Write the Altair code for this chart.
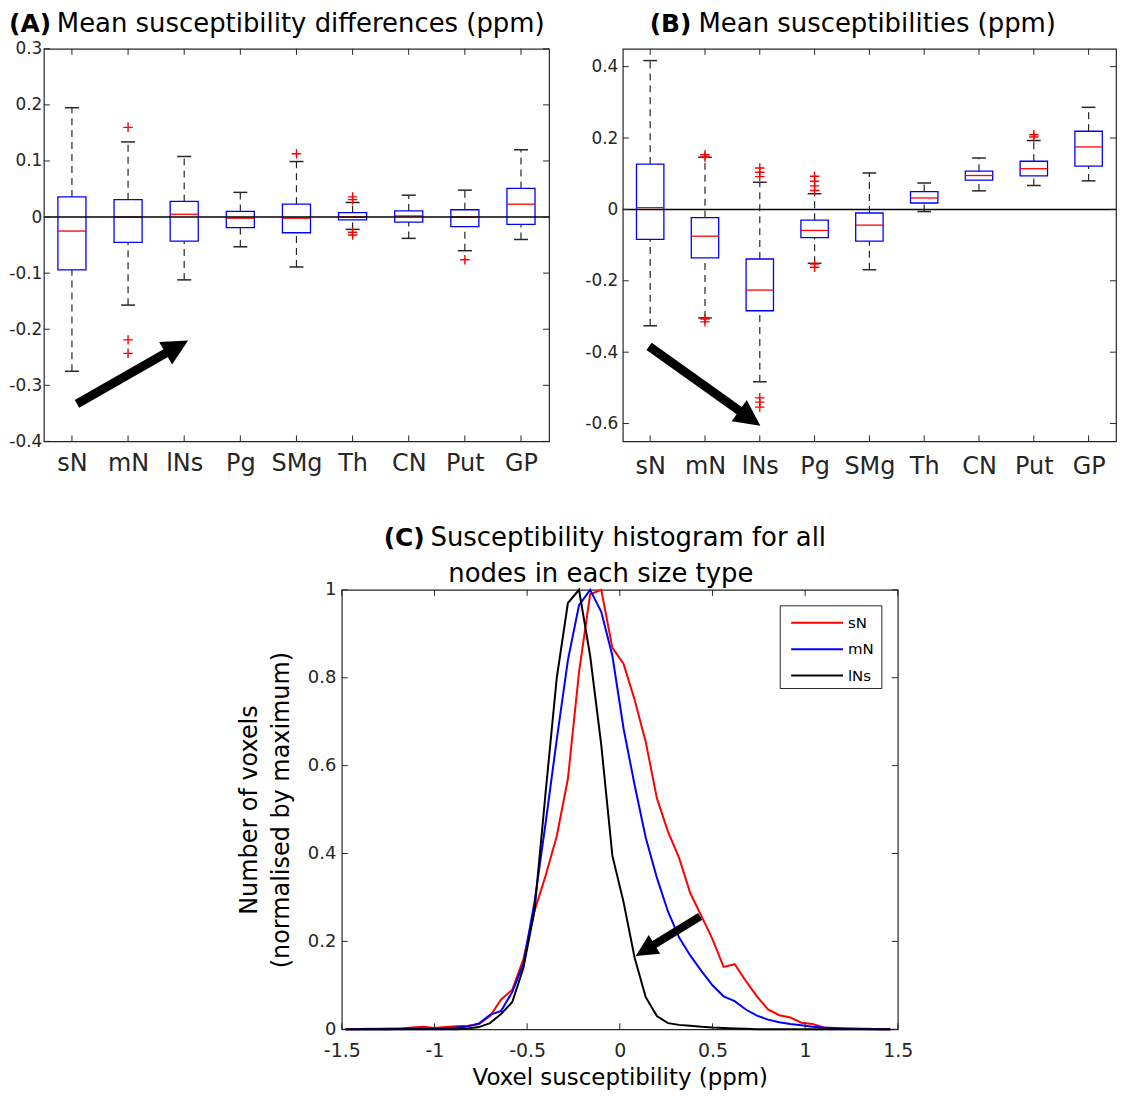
import math
import altair as alt
import pandas as pd

FONT = "DejaVu Sans"
AX = "#262626"

# ---------------- data ----------------
cats = ["sN", "mN", "lNs", "Pg", "SMg", "Th", "CN", "Put", "GP"]
cat_pos = [1, 2, 3, 4, 5, 6, 7, 8, 9]

# (A) mean susceptibility differences
a_upper = [0.195, 0.134, 0.108, 0.044, 0.099, 0.026, 0.039, 0.048, 0.120]
a_q3 = [0.036, 0.031, 0.028, 0.010, 0.023, 0.008, 0.011, 0.013, 0.051]
a_median = [-0.025, 0.000, 0.005, -0.002, -0.002, 0.000, 0.002, 0.000, 0.023]
a_q1 = [-0.094, -0.045, -0.043, -0.019, -0.028, -0.005, -0.009, -0.017, -0.013]
a_lower = [-0.275, -0.157, -0.112, -0.053, -0.089, -0.022, -0.038, -0.060, -0.040]
a_out_cat = ["mN", "mN", "mN", "SMg", "Th", "Th", "Th", "Th", "Put"]
a_out_val = [0.160, -0.219, -0.243, 0.113, 0.036, 0.031, -0.027, -0.032, -0.076]
a_yticks = [-0.4, -0.3, -0.2, -0.1, 0, 0.1, 0.2, 0.3]
a_ydomain = [-0.4, 0.3]
a_arrow_x = [1.09, 3.07]
a_arrow_y = [-0.333, -0.220]

# (B) mean susceptibilities
b_upper = [0.417, 0.146, 0.076, 0.044, 0.102, 0.074, 0.144, 0.193, 0.286]
b_q3 = [0.127, -0.023, -0.139, -0.030, -0.010, 0.050, 0.107, 0.135, 0.219]
b_median = [0.005, -0.075, -0.226, -0.059, -0.044, 0.032, 0.095, 0.114, 0.175]
b_q1 = [-0.084, -0.136, -0.284, -0.079, -0.089, 0.018, 0.082, 0.094, 0.121]
b_lower = [-0.326, -0.304, -0.483, -0.151, -0.169, -0.006, 0.052, 0.067, 0.080]
b_out_cat = ["mN", "mN", "mN", "mN", "lNs", "lNs", "lNs", "lNs", "lNs", "lNs",
             "Pg", "Pg", "Pg", "Pg", "Pg", "Pg", "Put", "Put"]
b_out_val = [0.153, 0.147, -0.307, -0.315, 0.116, 0.104, 0.092, -0.528, -0.540, -0.554,
             0.093, 0.079, 0.066, 0.053, -0.153, -0.162, 0.209, 0.203]
b_yticks = [-0.6, -0.4, -0.2, 0, 0.2, 0.4]
b_ydomain = [-0.65, 0.45]
b_arrow_x = [0.98, 3.01]
b_arrow_y = [-0.384, -0.606]

# (C) histograms
hist_x = [-1.48, -1.42, -1.36, -1.30, -1.24, -1.18, -1.12, -1.06, -1.00, -0.94,
          -0.88, -0.82, -0.76, -0.70, -0.64, -0.58, -0.52, -0.46, -0.40, -0.34,
          -0.28, -0.22, -0.16, -0.10, -0.04, 0.02, 0.08, 0.14, 0.20, 0.26,
          0.32, 0.38, 0.44, 0.50, 0.56, 0.62, 0.68, 0.74, 0.80, 0.86,
          0.92, 0.98, 1.04, 1.10, 1.16, 1.22, 1.28, 1.34, 1.40, 1.46]
hist_sN = [0.000, 0.000, 0.001, 0.001, 0.002, 0.002, 0.004, 0.006, 0.003, 0.005,
           0.007, 0.008, 0.012, 0.030, 0.068, 0.090, 0.160, 0.270, 0.350, 0.440,
           0.570, 0.813, 0.990, 1.000, 0.868, 0.832, 0.750, 0.654, 0.526, 0.450,
           0.390, 0.310, 0.258, 0.205, 0.142, 0.148, 0.110, 0.075, 0.045, 0.032,
           0.027, 0.015, 0.012, 0.004, 0.002, 0.001, 0.001, 0.000, 0.000, 0.000]
hist_mN = [0.000, 0.000, 0.000, 0.000, 0.000, 0.001, 0.001, 0.001, 0.001, 0.002,
           0.004, 0.006, 0.013, 0.033, 0.042, 0.085, 0.150, 0.290, 0.470, 0.660,
           0.840, 0.965, 1.000, 0.950, 0.850, 0.685, 0.556, 0.436, 0.345, 0.268,
           0.209, 0.168, 0.133, 0.100, 0.075, 0.064, 0.045, 0.031, 0.022, 0.016,
           0.012, 0.009, 0.006, 0.004, 0.003, 0.002, 0.001, 0.001, 0.000, 0.000]
hist_lNs = [0.000, 0.000, 0.000, 0.000, 0.000, 0.000, 0.000, 0.000, 0.000, 0.000,
            0.000, 0.002, 0.005, 0.014, 0.035, 0.062, 0.140, 0.270, 0.540, 0.800,
            0.970, 1.000, 0.850, 0.647, 0.395, 0.290, 0.163, 0.073, 0.030, 0.014,
            0.010, 0.008, 0.006, 0.004, 0.003, 0.002, 0.001, 0.000, 0.000, 0.000,
            0.000, 0.000, 0.000, 0.000, 0.000, 0.000, 0.000, 0.000, 0.000, 0.000]
series_names = ["sN", "mN", "lNs"]
series_colors = ["#ff0000", "#0000ff", "#000000"]
c_xticks = [-1.5, -1, -0.5, 0, 0.5, 1, 1.5]
c_yticks = [0, 0.2, 0.4, 0.6, 0.8, 1]
c_xdomain = [-1.5, 1.5]
c_ydomain = [0, 1]
c_arrow_x = [0.434, 0.086]
c_arrow_y = [0.257, 0.167]

titles = {
    "A": ("(A)", "Mean susceptibility differences (ppm)"),
    "B": ("(B)", "Mean susceptibilities (ppm)"),
    "C": ("(C)", "Susceptibility histogram for all", "nodes in each size type"),
}
x_title_c = "Voxel susceptibility (ppm)"
y_title_c = ["Number of voxels", "(normalised by maximum)"]

# ---------------- helpers ----------------
PLUS = "M-1,0L1,0M0,-1L0,1"
HEAD = "M0,0L-2,-1L-2,1Z"
NUM_LABEL = "'' + datum.value"
CAT_EXPR = "[" + ",".join("'%s'" % c for c in cats) + "][datum.value - 1]"

A_W, A_H = 507, 394
B_W, B_H = 495, 394
C_W, C_H = 558, 441
C_LEFT_GAP = 299   # horizontal offset of panel C's plot area from panel A's


def text_layer(txt, x, y, size, bold=False, align="left", baseline="alphabetic"):
    return alt.Chart(pd.DataFrame({"t": [txt]})).mark_text(
        align=align, baseline=baseline, font=FONT, fontSize=size,
        fontWeight="bold" if bold else "normal", color="black"
    ).encode(x=alt.value(x), y=alt.value(y), text="t:N")


def make_enc(xsc, ysc, xax, yax):
    X = lambda f: alt.X(f, scale=xsc, axis=xax)
    Y = lambda f: alt.Y(f, scale=ysc, axis=yax)
    return X, Y


def inner_ticks(xvals, yvals, X, Y, W, H, L=6):
    dx = pd.DataFrame({"v": xvals})
    dy = pd.DataFrame({"v": yvals})
    st = dict(color=AX, strokeWidth=1)
    return [
        alt.Chart(dy).mark_rule(**st).encode(y=Y("v:Q"), x=alt.value(0), x2=alt.value(L)),
        alt.Chart(dy).mark_rule(**st).encode(y=Y("v:Q"), x=alt.value(W - L), x2=alt.value(W)),
        alt.Chart(dx).mark_rule(**st).encode(x=X("v:Q"), y=alt.value(0), y2=alt.value(L)),
        alt.Chart(dx).mark_rule(**st).encode(x=X("v:Q"), y=alt.value(H - L), y2=alt.value(H)),
    ]


def arrow(ax, ay, X, Y, xdom, ydom, W, H, head_len, shaft_w):
    sx = W / (xdom[1] - xdom[0])
    sy = H / (ydom[1] - ydom[0])
    dx = (ax[1] - ax[0]) * sx
    dy = -(ay[1] - ay[0]) * sy
    length = math.hypot(dx, dy)
    ang = math.degrees(math.atan2(dy, dx)) % 360
    f = 1 - 0.7 * head_len / length
    shaft_df = pd.DataFrame({"x": [ax[0]], "y": [ay[0]],
                             "x2": [ax[0] + f * (ax[1] - ax[0])],
                             "y2": [ay[0] + f * (ay[1] - ay[0])]})
    shaft = alt.Chart(shaft_df).mark_rule(color="black", strokeWidth=shaft_w).encode(
        x=X("x:Q"), y=Y("y:Q"), x2="x2:Q", y2="y2:Q")
    head = alt.Chart(pd.DataFrame({"x": [ax[1]], "y": [ay[1]]})).mark_point(
        shape=HEAD, size=head_len ** 2, filled=True, color="black", opacity=1,
        strokeWidth=0, angle=round(ang, 1)
    ).encode(x=X("x:Q"), y=Y("y:Q"))
    return [shaft, head]


def box_panel(upper, q3, med, q1, lower, out_cat, out_val, yticks, ydom, W, H,
              arr_x, arr_y, title, bold_x, rest_x, ylab_pad, xlab_pad):
    xdom = [0.5, 9.5]
    xsc = alt.Scale(domain=xdom, nice=False, zero=False)
    ysc = alt.Scale(domain=ydom, nice=False, zero=False)
    df = pd.DataFrame({"i": cat_pos, "upper": upper, "q3": q3, "med": med,
                       "q1": q1, "lower": lower})
    df["lo"] = df["i"] - 0.25
    df["hi"] = df["i"] + 0.25
    df["clo"] = df["i"] - 0.125
    df["chi"] = df["i"] + 0.125
    outs = pd.DataFrame({"i": [cat_pos[cats.index(c)] for c in out_cat], "v": out_val})

    xax = alt.Axis(values=cat_pos, labelExpr=CAT_EXPR, ticks=False, domain=False, grid=False,
                   labelFontSize=24, labelPadding=xlab_pad, labelAngle=0, labelOverlap=False,
                   labelFlush=False, title=None, labelColor=AX, labelFont=FONT)
    yax = alt.Axis(values=yticks, labelExpr=NUM_LABEL, ticks=False, domain=False, grid=False,
                   labelFontSize=17, labelPadding=ylab_pad, title=None, labelOverlap=False,
                   labelFlush=False, labelColor=AX, labelFont=FONT)
    X, Y = make_enc(xsc, ysc, xax, yax)

    base = alt.Chart(df)
    boxes = base.mark_rect(filled=False, color="#0000ff", strokeWidth=1.3).encode(
        x=X("lo:Q"), x2="hi:Q", y=Y("q1:Q"), y2="q3:Q")
    dash = dict(color=AX, strokeWidth=1.2, strokeDash=[7, 5])
    w_up = base.mark_rule(**dash).encode(x=X("i:Q"), y=Y("q3:Q"), y2="upper:Q")
    w_lo = base.mark_rule(**dash).encode(x=X("i:Q"), y=Y("lower:Q"), y2="q1:Q")
    c_up = base.mark_rule(color=AX, strokeWidth=1.5).encode(x=X("clo:Q"), x2="chi:Q", y=Y("upper:Q"))
    c_lo = base.mark_rule(color=AX, strokeWidth=1.5).encode(x=X("clo:Q"), x2="chi:Q", y=Y("lower:Q"))
    meds = base.mark_rule(color="#ff0000", strokeWidth=1.3).encode(x=X("lo:Q"), x2="hi:Q", y=Y("med:Q"))
    zero = alt.Chart(pd.DataFrame({"z": [0]})).mark_rule(color="black", strokeWidth=1.5).encode(y=Y("z:Q"))
    outl = alt.Chart(outs).mark_point(shape=PLUS, size=90, color="#ff0000", strokeWidth=1.4,
                                      opacity=1).encode(x=X("i:Q"), y=Y("v:Q"))
    layers = [boxes, w_up, w_lo, c_up, c_lo, meds, zero, outl]
    layers += inner_ticks(cat_pos, yticks, X, Y, W, H)
    layers += arrow(arr_x, arr_y, X, Y, xdom, ydom, W, H, 26, 9)
    layers += [text_layer(title[0], bold_x, -17, 25, bold=True),
               text_layer(title[1], rest_x, -17, 26)]
    return alt.layer(*layers).properties(width=W, height=H)


chart_a = box_panel(a_upper, a_q3, a_median, a_q1, a_lower, a_out_cat, a_out_val,
                    a_yticks, a_ydomain, A_W, A_H, a_arrow_x, a_arrow_y,
                    titles["A"], -35, 13, 2, 10)
chart_b = box_panel(b_upper, b_q3, b_median, b_q1, b_lower, b_out_cat, b_out_val,
                    b_yticks, b_ydomain, B_W, B_H, b_arrow_x, b_arrow_y,
                    titles["B"], 27, 76, 5, 13)

# ---------------- panel C ----------------
csx = alt.Scale(domain=c_xdomain, nice=False, zero=False)
csy = alt.Scale(domain=c_ydomain, nice=False, zero=False)
cxax = alt.Axis(values=c_xticks, labelExpr=NUM_LABEL, ticks=False, domain=False, grid=False,
                labelFontSize=19, labelPadding=12, labelFlush=False, labelOverlap=False,
                labelColor=AX, labelFont=FONT, title=x_title_c, titleFont=FONT,
                titleFontSize=23, titlePadding=6, titleFontWeight="normal", titleColor="black")
cyax = alt.Axis(values=c_yticks, labelExpr=NUM_LABEL, ticks=False, domain=False, grid=False,
                labelFontSize=18, labelPadding=6, labelFlush=False, labelOverlap=False,
                labelColor=AX, labelFont=FONT, title=y_title_c, titleFont=FONT,
                titleFontSize=24, titleLineHeight=32, titlePadding=14,
                titleFontWeight="normal", titleColor="black")
CX, CY = make_enc(csx, csy, cxax, cyax)

rows = []
for name, vals in zip(series_names, [hist_sN, hist_mN, hist_lNs]):
    for xv, yv in zip(hist_x, vals):
        rows.append({"x": xv, "v": yv, "s": name})
hd = pd.DataFrame(rows)

lines = alt.Chart(hd).mark_line(strokeWidth=2).encode(
    x=CX("x:Q"), y=CY("v:Q"),
    color=alt.Color("s:N", scale=alt.Scale(domain=series_names, range=series_colors), legend=None),
)

c_layers = [lines]
c_layers += inner_ticks(c_xticks, c_yticks, CX, CY, C_W, C_H)
c_layers += arrow(c_arrow_x, c_arrow_y, CX, CY, c_xdomain, c_ydomain, C_W, C_H, 22, 8)

# legend (MATLAB style box)
c_layers.append(alt.Chart(pd.DataFrame({"a": [0]})).mark_rect(
    fill="white", stroke=AX, strokeWidth=1).encode(
    x=alt.value(440), x2=alt.value(542), y=alt.value(16), y2=alt.value(99)))
for k, (name, col) in enumerate(zip(series_names, series_colors)):
    yy = 33 + 26.5 * k
    c_layers.append(alt.Chart(pd.DataFrame({"s": [name]})).mark_rule(color=col, strokeWidth=2).encode(
        x=alt.value(451), x2=alt.value(503), y=alt.value(yy)))
    c_layers.append(alt.Chart(pd.DataFrame({"s": [name]})).mark_text(
        align="left", baseline="middle", font=FONT, fontSize=15, color="black").encode(
        x=alt.value(508), y=alt.value(yy), text="s:N"))

c_layers += [text_layer(titles["C"][0], 42, -44, 25, bold=True),
             text_layer(titles["C"][1], 89, -44, 26),
             text_layer(titles["C"][2], 260, -8, 26, align="center")]

chart_c = alt.layer(*c_layers).properties(width=C_W, height=C_H)

# empty spacer panel that pushes panel C to the right
spacer = alt.Chart(pd.DataFrame({"a": [0]})).mark_rule(color="white", strokeWidth=1).encode(
    x=alt.value(0), x2=alt.value(1), y=alt.value(0)
).properties(width=C_LEFT_GAP, height=10, view=alt.ViewBackground(stroke="transparent", strokeWidth=0))

top = alt.hconcat(chart_a, chart_b, spacing=74, bounds="flush")
bottom = alt.hconcat(spacer, chart_c, spacing=0, bounds="flush")
chart = alt.vconcat(top, bottom, spacing=45).properties(
    padding={"left": 0, "top": 0, "right": 0, "bottom": 0},
    background="white",
).configure_view(stroke=AX, strokeWidth=1.2)

chart.save("out.html", embed_options={"renderer": "svg", "actions": False})
